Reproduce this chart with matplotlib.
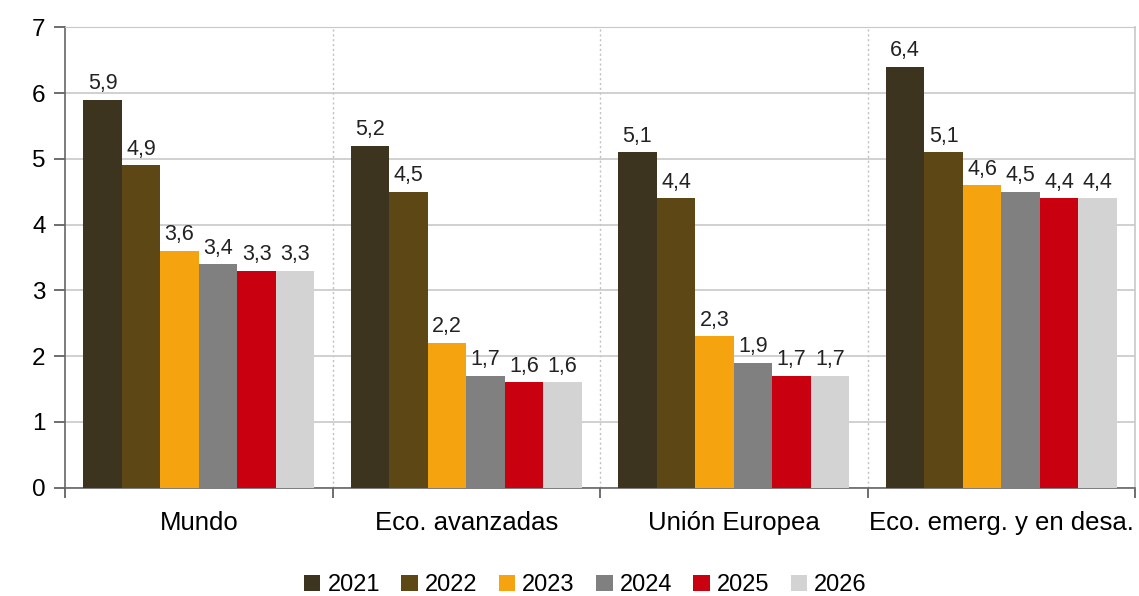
import numpy as np
import matplotlib
matplotlib.use("Agg")
import matplotlib.pyplot as plt
from matplotlib.patches import Patch

plt.rcParams['font.family'] = ['Liberation Sans', 'DejaVu Sans']

# datos
categorias = ['Mundo', 'Eco. avanzadas', 'Unión Europea', 'Eco. emerg. y en desa.']
anios = ['2021', '2022', '2023', '2024', '2025', '2026']
v2021 = [5.9, 5.2, 5.1, 6.4]
v2022 = [4.9, 4.5, 4.4, 5.1]
v2023 = [3.6, 2.2, 2.3, 4.6]
v2024 = [3.4, 1.7, 1.9, 4.5]
v2025 = [3.3, 1.6, 1.7, 4.4]
v2026 = [3.3, 1.6, 1.7, 4.4]
series = [v2021, v2022, v2023, v2024, v2025, v2026]
colores = ['#3d3420', '#5c4715', '#f5a30f', '#808080', '#c8000f', '#d3d3d3']

fig = plt.figure(figsize=(11.39, 5.96), dpi=100)
ax = fig.add_axes([0.0571, 0.1817, 0.9394, 0.7725])

x = np.arange(len(categorias))
w = 0.144
for i, (vals, col) in enumerate(zip(series, colores)):
    pos = x + (i - 2.5) * w
    ax.bar(pos, vals, width=w, color=col, zorder=3, linewidth=0)
    for p, v in zip(pos, vals):
        ax.annotate(f"{v:.1f}".replace('.', ','), (p, v), xytext=(0, 4),
                    textcoords='offset points', ha='center', va='bottom',
                    fontsize=15.5, color='#222222')

ax.set_xlim(-0.5, 3.5)
ax.set_ylim(0, 7)
ax.set_yticks(range(0, 8))
ax.yaxis.grid(True, color='#c8c8c8', linewidth=1.2, zorder=0)

# separadores de grupo
for b in [0.5, 1.5, 2.5]:
    ax.axvline(b, color='#c0c0c0', linestyle=(0, (1.5, 2)), linewidth=1, zorder=0)

ax.set_xticks(np.arange(-0.5, 4.0, 1.0))
ax.set_xticklabels([])
ax.set_xticks(x, minor=True)
ax.set_xticklabels(categorias, minor=True, fontsize=18.5)
ax.tick_params(axis='x', which='major', length=7.5, width=1.2, color='#555555', direction='out')
ax.tick_params(axis='x', which='minor', length=0, pad=17)
ax.tick_params(axis='y', length=8, width=1.2, color='#555555', labelsize=17.5, pad=6)

for s in ['left', 'bottom']:
    ax.spines[s].set_color('#666666')
    ax.spines[s].set_linewidth(1.2)
ax.spines['top'].set_color('#c8c8c8')
ax.spines['right'].set_color('#c8c8c8')
ax.spines['right'].set_linewidth(1.2)

handles = [Patch(facecolor=c, edgecolor='none') for c in colores]
fig.legend(handles, anios, loc='center', bbox_to_anchor=(0.514, 0.018), ncol=6,
           frameon=False, fontsize=17, handlelength=0.7, handleheight=0.7,
           handletextpad=0.3, columnspacing=0.9, borderaxespad=0)

fig.savefig('out.png', dpi=100)
